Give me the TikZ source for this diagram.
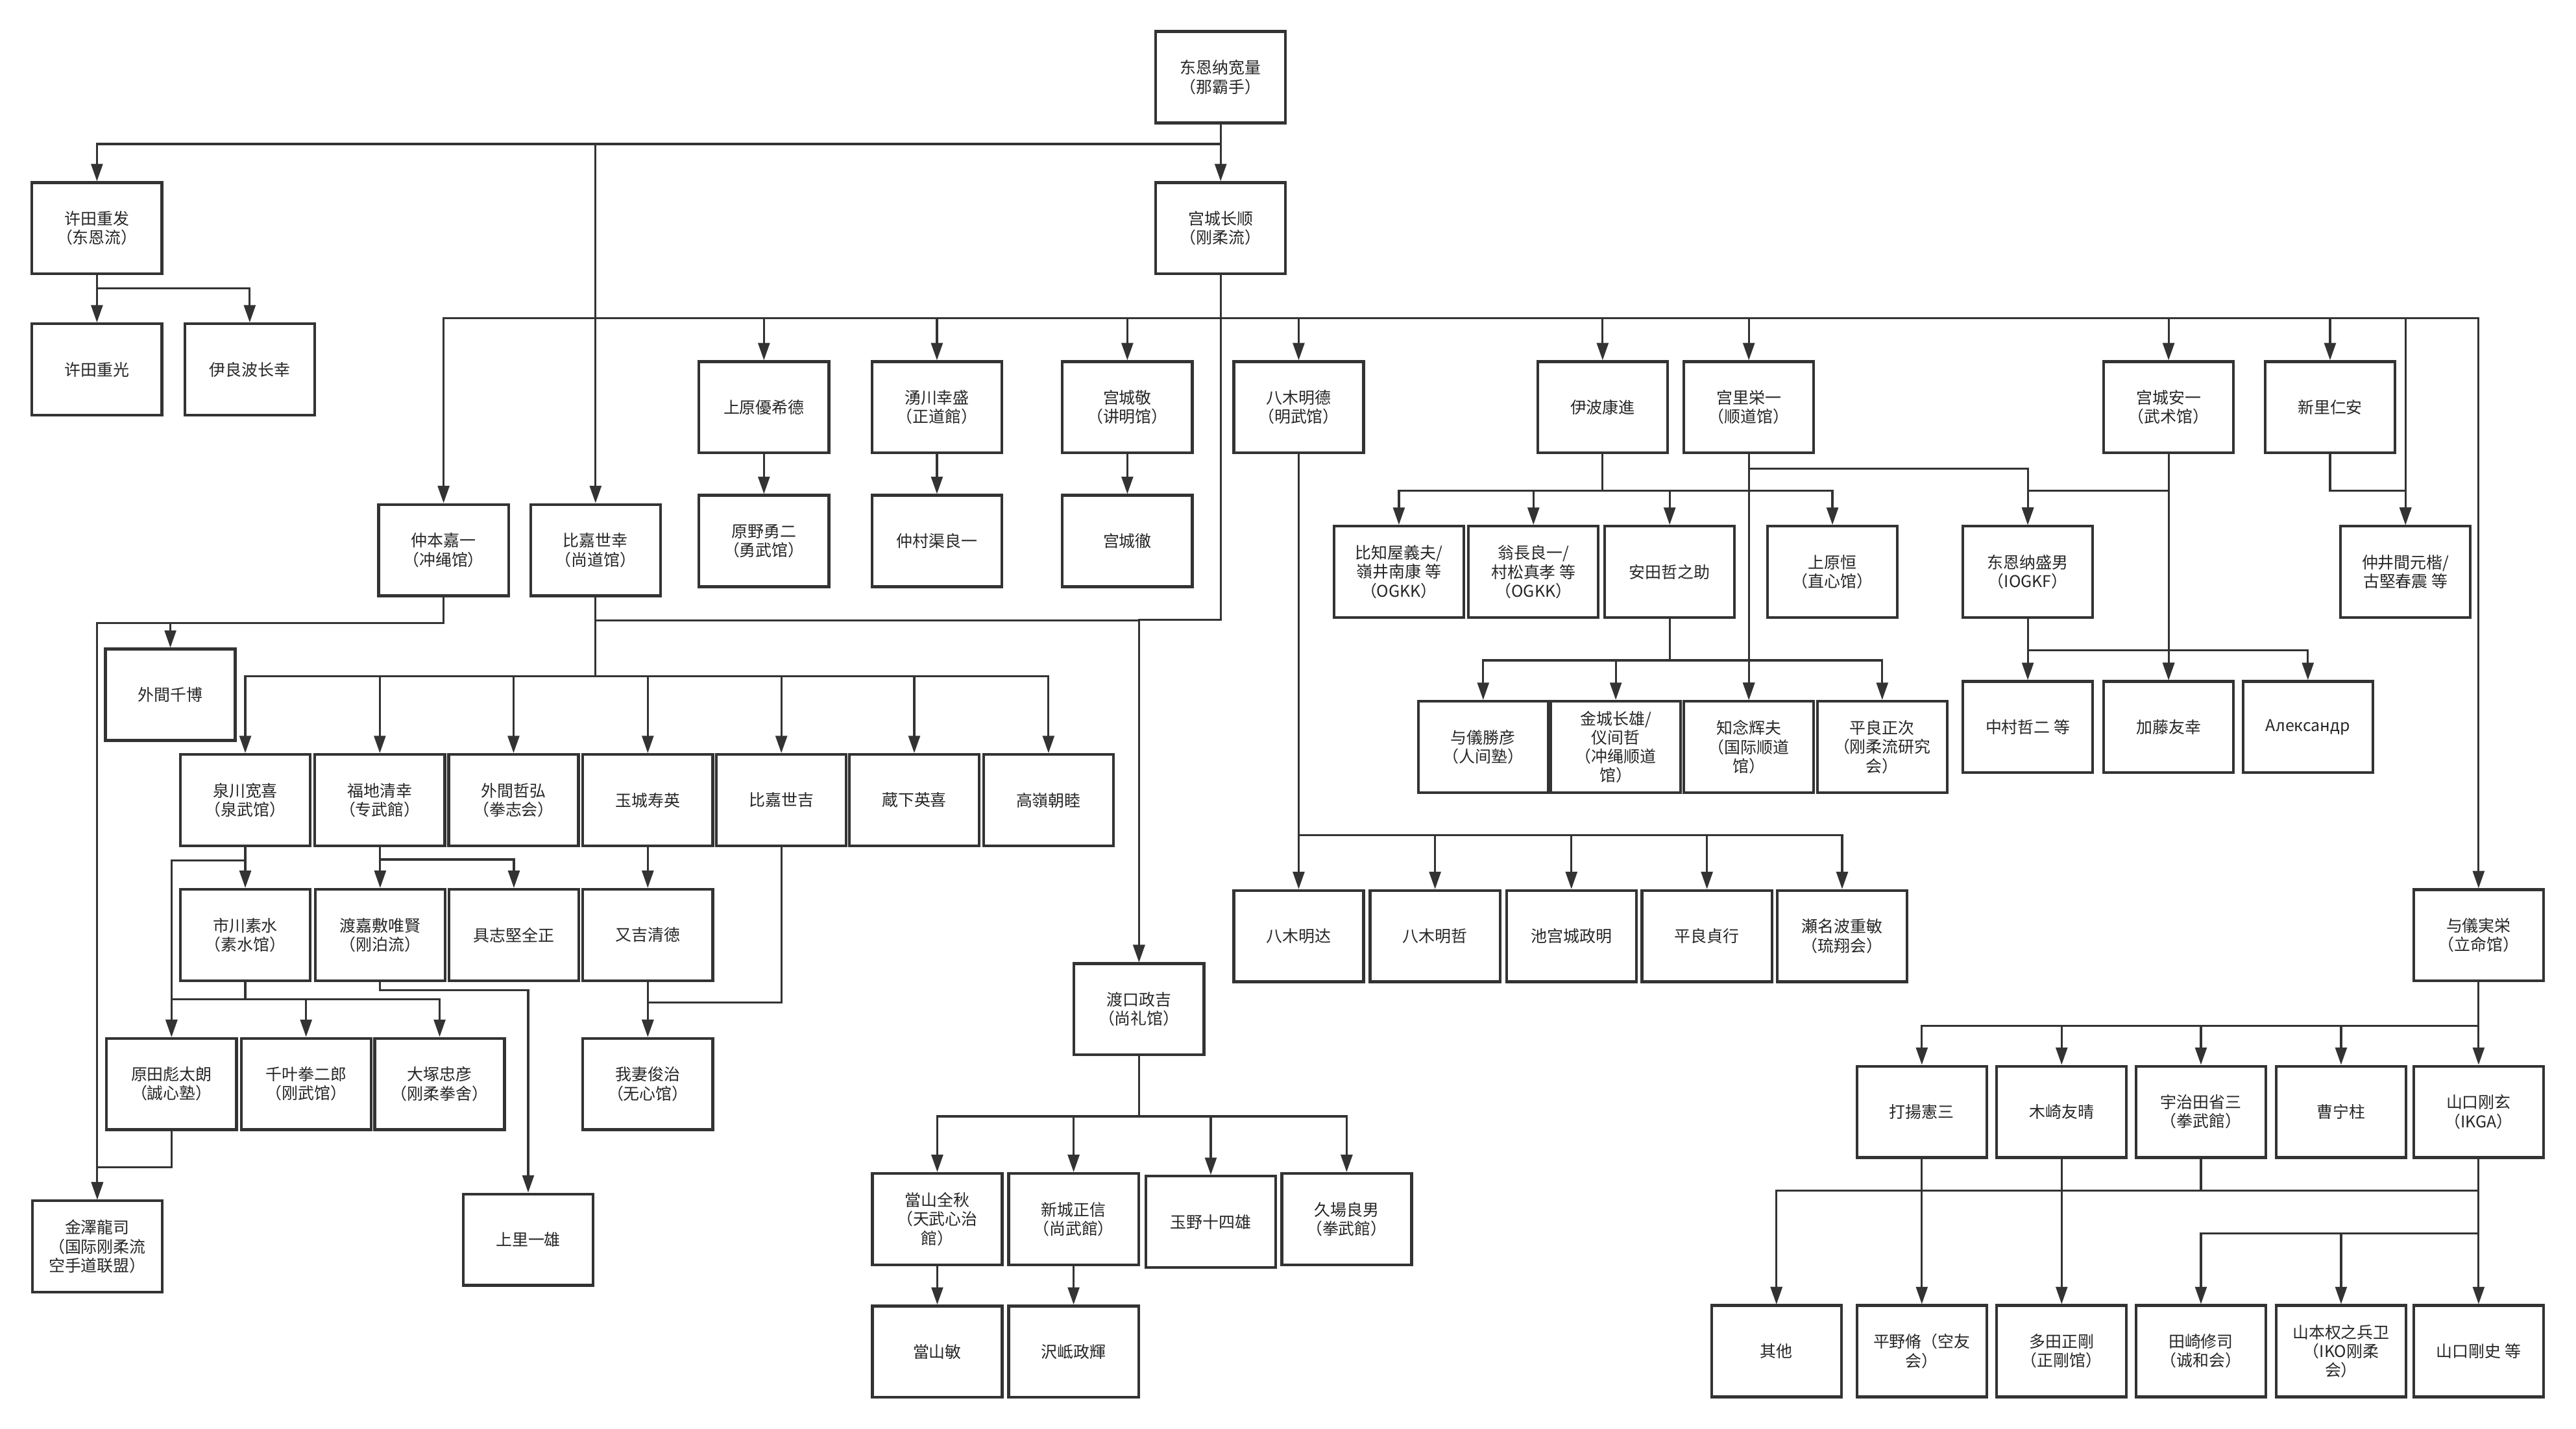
\documentclass[tikz,border=0pt]{standalone}
\usepackage{fontspec}
\newfontfamily\cjk{Noto Sans CJK SC}
\usetikzlibrary{arrows.meta}

\begin{document}
\begin{tikzpicture}[x=0.025cm,y=-0.025cm,
    box/.style={draw=black!80,line width=1.2pt,minimum width=1.975cm,minimum height=1.39cm,
      align=center,inner sep=1pt,text=black!85,font=\cjk\fontsize{7}{8.2}\selectfont},
    arr/.style={draw=black!80,line width=0.9pt,-{Triangle[length=7.5pt,width=5pt]}}]
    \fill[white] (0,0) rectangle (1568,870);
    \useasboundingbox (0,0) rectangle (1568,870);

    % 第一层
    \node[box] (dongen) at (743,47) {东恩纳宽量\\（那霸手）};
    \node[box] (xutian) at (59,139) {许田重发\\（东恩流）};
    \node[box] (miyagi) at (743,139) {宫城长顺\\（刚柔流）};
    \node[box] (xutianzg) at (59,225) {许田重光};
    \node[box] (iraha) at (152,225) {伊良波长幸};

    % 宫城长顺门下
    \node[box] (uehara) at (465,248) {上原優希德};
    \node[box] (wakugawa) at (570.3,248) {湧川幸盛\\（正道館）};
    \node[box] (miyagikei) at (686.2,248) {宫城敬\\（讲明馆）};
    \node[box] (yagi) at (790.5,248) {八木明德\\（明武馆）};
    \node[box] (iha) at (975.5,248) {伊波康進};
    \node[box] (miyazato) at (1064.5,248) {宫里栄一\\（顺道馆）};
    \node[box] (miyagiyasu) at (1320,248) {宫城安一\\（武术馆）};
    \node[box] (shinzato) at (1418.3,248) {新里仁安};
    \node[box] (nakamoto) at (270,335) {仲本嘉一\\（冲绳馆）};
    \node[box] (higa) at (362.5,335) {比嘉世幸\\（尚道馆）};
    \node[box] (harano) at (465,329.4) {原野勇二\\（勇武馆）};
    \node[box] (nakandakari) at (570.3,329.4) {仲村渠良一};
    \node[box] (miyagitoru) at (686.2,329.4) {宫城徹};

    % 伊波、宫里、宫城安一门下
    \node[box] (hichiya) at (851.5,348.2) {比知屋義夫/\\嶺井南康 等\\（OGKK）};
    \node[box] (onaga) at (933.4,348.2) {翁長良一/\\村松真孝 等\\（OGKK）};
    \node[box] (yasuda) at (1016.3,348.2) {安田哲之助};
    \node[box] (ueharatsune) at (1115.4,348.2) {上原恒\\（直心馆）};
    \node[box] (higaonna) at (1234.3,348.2) {东恩纳盛男\\（IOGKF）};
    \node[box] (nakaima) at (1464.2,348.2) {仲井間元楷/\\古堅春震 等};
    \node[box] (yogi) at (902.8,454.8) {与儀勝彦\\（人间塾）};
    \node[box] (kinjo) at (983.5,454.8) {金城长雄/\\仪间哲\\（冲绳顺道\\馆）};
    \node[box] (chinen) at (1064.5,454.8) {知念辉夫\\（国际顺道\\馆）};
    \node[box] (taira) at (1145.7,454.8) {平良正次\\（刚柔流研究\\会）};
    \node[box] (nakamura) at (1234.3,442.7) {中村哲二 等};
    \node[box] (kato) at (1320,442.7) {加藤友幸};
    \node[box] (alex) at (1404.8,442.7) {Александр};

    % 比嘉世幸门下
    \node[box] (hokama) at (103.7,423) {外間千博};
    \node[box] (izumikawa) at (149.3,487.2) {泉川宽喜\\（泉武馆）};
    \node[box] (fukuchi) at (231.2,487.2) {福地清幸\\（专武館）};
    \node[box] (hokamat) at (312.6,487.2) {外間哲弘\\（拳志会）};
    \node[box] (tamaki) at (394.3,487.2) {玉城寿英};
    \node[box] (higaseikichi) at (475.6,487.2) {比嘉世吉};
    \node[box] (kurashita) at (556.5,487.2) {蔵下英喜};
    \node[box] (takamine) at (638.2,487.2) {高嶺朝睦};
    \node[box] (ichikawa) at (149.3,569.3) {市川素水\\（素水馆）};
    \node[box] (tokashiki) at (231.4,569.3) {渡嘉敷唯賢\\（刚泊流）};
    \node[box] (gushiken) at (312.8,569.3) {具志堅全正};
    \node[box] (matayoshi) at (394.3,569.3) {又吉清徳};
    \node[box] (harada) at (104.4,660) {原田彪太朗\\（誠心塾）};
    \node[box] (chiba) at (186.3,660) {千叶拳二郎\\（刚武馆）};
    \node[box] (otsuka) at (267.6,660) {大塚忠彦\\（刚柔拳舍）};
    \node[box] (wagatsuma) at (394.3,660) {我妻俊治\\（无心馆）};
    \node[box] (kanazawa) at (59.2,759) {金澤龍司\\（国际刚柔流\\空手道联盟）};
    \node[box] (uezato) at (321.5,754.8) {上里一雄};

    % 渡口政吉门下
    \node[box] (toguchi) at (693.3,614.5) {渡口政吉\\（尚礼馆）};
    \node[box] (toyama) at (570.5,742.3) {當山全秋\\（天武心治\\館）};
    \node[box] (arakaki) at (653.5,742.3) {新城正信\\（尚武館）};
    \node[box] (tamano) at (737,744) {玉野十四雄};
    \node[box] (kuba) at (819.7,742.3) {久場良男\\（拳武館）};
    \node[box] (toyamabin) at (570.5,823) {當山敏};
    \node[box] (takushi) at (653.5,823) {沢岻政輝};

    % 八木明德门下
    \node[box] (yagitatsu) at (790.5,570) {八木明达};
    \node[box] (yagitetsu) at (873.5,570) {八木明哲};
    \node[box] (ikemiyagi) at (956.5,570) {池宫城政明};
    \node[box] (tairatei) at (1039,570) {平良貞行};
    \node[box] (senaha) at (1121.3,570) {瀬名波重敏\\（琉翔会）};

    % 与儀実栄门下
    \node[box] (yogijitsu) at (1508.7,569.5) {与儀実栄\\（立命馆）};
    \node[box] (uchiage) at (1169.8,677) {打揚憲三};
    \node[box] (kisaki) at (1254.9,677) {木崎友晴};
    \node[box] (ujita) at (1339.7,677) {宇治田省三\\（拳武館）};
    \node[box] (sou) at (1425,677) {曹宁柱};
    \node[box] (yamaguchi) at (1508.7,677) {山口刚玄\\（IKGA）};
    \node[box] (other) at (1081.3,822.7) {其他};
    \node[box] (hirano) at (1169.8,822.7) {平野脩（空友\\会）};
    \node[box] (tada) at (1254.9,822.7) {多田正剛\\（正剛馆）};
    \node[box] (tazaki) at (1339.7,822.7) {田崎修司\\（诚和会）};
    \node[box] (yamamoto) at (1425,822.7) {山本权之兵卫\\（IKO刚柔\\会）};
    \node[box] (goshi) at (1508.7,822.7) {山口剛史 等};

    % 连线
    \foreach \c in {xutian,miyagi,higa}
    \draw[arr] (dongen.south) -- ++(0,12) -| (\c.north);
    \foreach \c in {xutianzg,iraha}
    \draw[arr] (xutian.south) -- ++(0,8) -| (\c.north);
    \foreach \c in {nakamoto,uehara,wakugawa,miyagikei,yagi,iha,miyazato,miyagiyasu,shinzato,nakaima,yogijitsu}
    \draw[arr] (miyagi.south) -- ++(0,26) -| (\c.north);
    \draw[arr] (miyagi.south) -- ++(0,209.6) -| (toguchi.north);
    \draw[arr] (higa.south) -- ++(0,14.1) -| (toguchi.north);
    \draw[arr] (uehara) -- (harano);
    \draw[arr] (wakugawa) -- (nakandakari);
    \draw[arr] (miyagikei) -- (miyagitoru);

    \foreach \c in {hokama,kanazawa}
    \draw[arr] (nakamoto.south) -- ++(0,15.8) -| (\c.north);
    \foreach \c in {izumikawa,fukuchi,hokamat,tamaki,higaseikichi,kurashita,takamine}
    \draw[arr] (higa.south) -- ++(0,48.1) -| (\c.north);
    \foreach \c in {ichikawa,harada}
    \draw[arr] (izumikawa.south) -- ++(0,8) -| (\c.north);
    \foreach \c in {tokashiki,gushiken}
    \draw[arr] (fukuchi.south) -- ++(0,7.5) -| (\c.north);
    \draw[arr] (tamaki) -- (matayoshi);
    \foreach \c in {harada,chiba,otsuka}
    \draw[arr] (ichikawa.south) -- ++(0,10.4) -| (\c.north);
    \draw[arr] (tokashiki.south) -- ++(0,5) -| (uezato.north);
    \draw[arr] (matayoshi) -- (wagatsuma);
    \draw[arr] (higaseikichi.south) -- ++(0,94.5) -| (wagatsuma.north);
    \draw[arr] (harada.south) -- ++(0,22.1) -| (kanazawa.north);

    \foreach \c in {toyama,arakaki,tamano,kuba}
    \draw[arr] (toguchi.south) -- ++(0,36.6) -| (\c.north);
    \draw[arr] (toyama) -- (toyamabin);
    \draw[arr] (arakaki) -- (takushi);

    \foreach \c in {yagitatsu,yagitetsu,ikemiyagi,tairatei,senaha}
    \draw[arr] (yagi.south) -- ++(0,231.7) -| (\c.north);
    \foreach \c in {hichiya,onaga,yasuda,ueharatsune}
    \draw[arr] (iha.south) -- ++(0,22.2) -| (\c.north);
    \draw[arr] (miyazato.south) -- ++(0,8.7) -| (higaonna.north);
    \draw[arr] (miyazato) -- (chinen);
    \draw[arr] (miyagiyasu) -- (kato);
    \draw[arr] (miyagiyasu.south) -- ++(0,22.2) -| (higaonna.north);
    \foreach \c in {yogi,kinjo,chinen,taira}
    \draw[arr] (yasuda.south) -- ++(0,25.2) -| (\c.north);
    \foreach \c in {nakamura,kato,alex}
    \draw[arr] (higaonna.south) -- ++(0,19.1) -| (\c.north);
    \draw[arr] (shinzato.south) -- ++(0,22.2) -| (nakaima.north);

    \foreach \c in {uchiage,kisaki,ujita,sou,yamaguchi}
    \draw[arr] (yogijitsu.south) -- ++(0,26.4) -| (\c.north);
    \draw[arr] (uchiage) -- (hirano);
    \draw[arr] (kisaki) -- (tada);
    \draw[arr] (ujita.south) -- ++(0,19.3) -| (other.north);
    \draw[arr] (yamaguchi.south) -- ++(0,19.3) -| (other.north);
    \foreach \c in {tazaki,yamamoto,goshi}
    \draw[arr] (yamaguchi.south) -- ++(0,45.5) -| (\c.north);
\end{tikzpicture}
\end{document}
